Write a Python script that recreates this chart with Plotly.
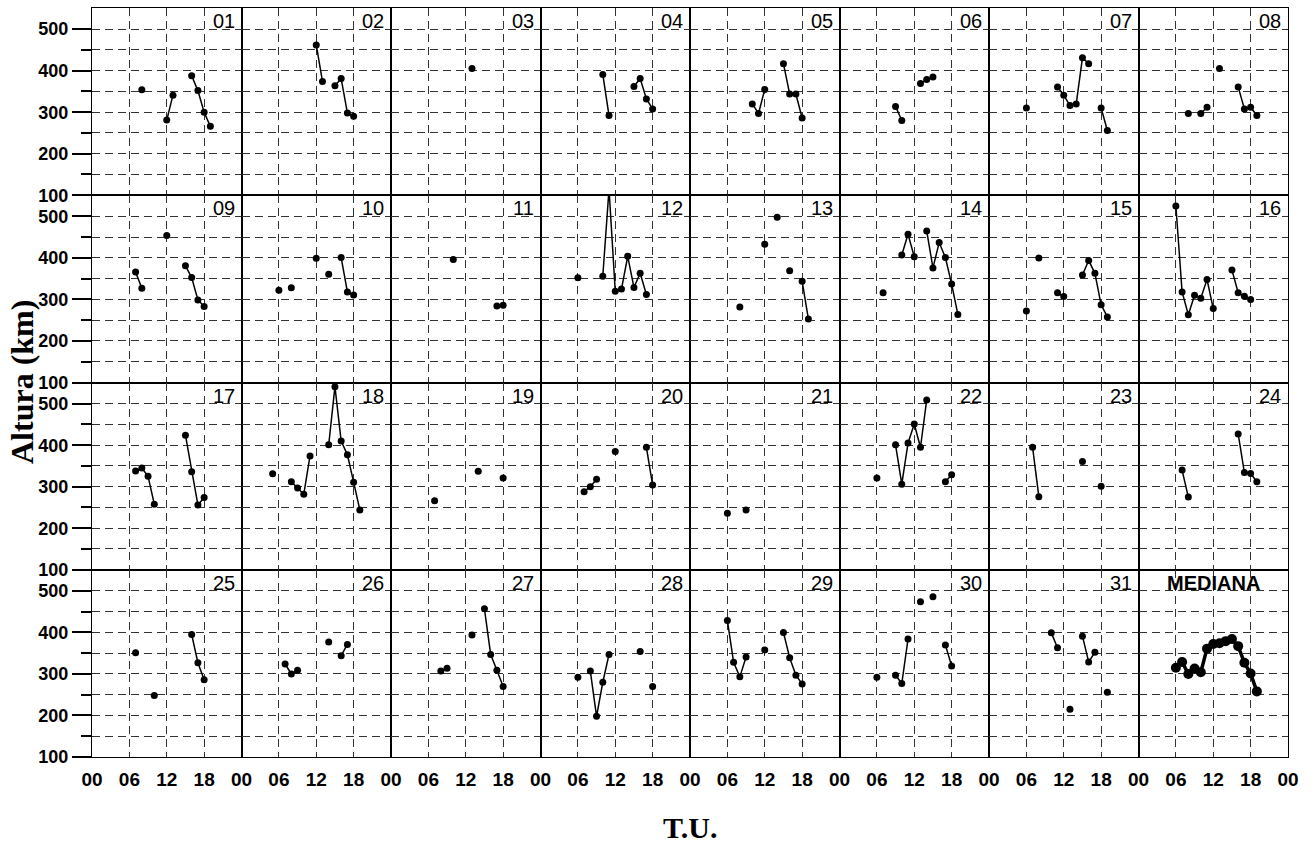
import plotly.graph_objects as go

# ---- data: hour (T.U.) and height (km) per day ----
d01_h = [8, 12, 13, 16, 17, 18, 19]
d01_v = [354, 281, 341, 388, 352, 300, 266]
d02_h = [12, 13, 15, 16, 17, 18]
d02_v = [462, 374, 364, 381, 298, 290]
d03_h = [13]
d03_v = [405]
d04_h = [10, 11, 15, 16, 17, 18]
d04_v = [391, 292, 362, 381, 332, 308]
d05_h = [10, 11, 12, 15, 16, 17, 18]
d05_v = [320, 297, 355, 417, 344, 344, 286]
d06_h = [9, 10, 13, 14, 15]
d06_v = [314, 280, 369, 379, 385]
d07_h = [6, 11, 12, 13, 14, 15, 16, 18, 19]
d07_v = [310, 361, 341, 316, 320, 431, 417, 310, 256]
d08_h = [8, 10, 11, 13, 16, 17, 18, 19]
d08_v = [297, 297, 312, 405, 361, 308, 312, 292]
d09_h = [7, 8, 12, 15, 16, 17, 18]
d09_v = [366, 327, 454, 381, 353, 299, 283]
d10_h = [6, 8, 12, 14, 16, 17, 18]
d10_v = [322, 328, 399, 361, 401, 318, 311]
d11_h = [10, 17, 18]
d11_v = [396, 284, 286]
d12_h = [6, 10, 11, 12, 13, 14, 15, 16, 17]
d12_v = [352, 356, 566, 320, 325, 404, 329, 363, 312]
d13_h = [8, 12, 14, 16, 18, 19]
d13_v = [282, 433, 498, 369, 344, 253]
d14_h = [7, 10, 11, 12, 14, 15, 16, 17, 18, 19]
d14_v = [316, 407, 457, 403, 465, 376, 437, 401, 337, 264]
d15_h = [6, 8, 11, 12, 15, 16, 17, 18, 19]
d15_v = [272, 400, 316, 307, 359, 394, 363, 287, 258]
d16_h = [6, 7, 8, 9, 10, 11, 12, 15, 16, 17, 18]
d16_v = [525, 318, 263, 310, 303, 348, 278, 371, 316, 308, 300]
d17_h = [7, 8, 9, 10, 15, 16, 17, 18]
d17_v = [338, 345, 325, 258, 424, 336, 256, 274]
d18_h = [5, 8, 9, 10, 11, 14, 15, 16, 17, 18, 19]
d18_v = [331, 312, 297, 282, 374, 401, 541, 410, 377, 311, 244]
d19_h = [7, 14, 18]
d19_v = [266, 337, 321]
d20_h = [7, 8, 9, 12, 17, 18]
d20_v = [288, 300, 318, 385, 395, 304]
d21_h = [6, 9]
d21_v = [236, 244]
d22_h = [6, 9, 10, 11, 12, 13, 14, 17, 18]
d22_v = [321, 401, 306, 405, 451, 395, 509, 312, 329]
d23_h = [7, 8, 15, 18]
d23_v = [395, 276, 361, 301]
d24_h = [7, 8, 16, 17, 18, 19]
d24_v = [340, 275, 427, 334, 332, 312]
d25_h = [7, 10, 16, 17, 18]
d25_v = [351, 248, 395, 327, 286]
d26_h = [7, 8, 9, 14, 16, 17]
d26_v = [324, 300, 309, 377, 344, 371]
d27_h = [8, 9, 13, 15, 16, 17, 18]
d27_v = [307, 314, 394, 457, 347, 309, 270]
d28_h = [6, 8, 9, 10, 11, 16, 18]
d28_v = [292, 307, 198, 280, 347, 354, 270]
d29_h = [6, 7, 8, 9, 12, 15, 16, 17, 18]
d29_v = [429, 328, 293, 341, 358, 400, 339, 297, 276]
d30_h = [6, 9, 10, 11, 13, 15, 17, 18]
d30_v = [292, 297, 277, 384, 474, 486, 370, 319]
d31_h = [10, 11, 13, 15, 16, 17, 19]
d31_v = [399, 363, 215, 391, 329, 352, 256]
med_h = [6, 7, 8, 9, 10, 11, 12, 13, 14, 15, 16, 17, 18, 19]
med_v = [315, 329, 300, 313, 304, 361, 372, 374, 379, 384, 367, 327, 301, 258]

panel_labels = ["01", "02", "03", "04", "05", "06", "07", "08",
                "09", "10", "11", "12", "13", "14", "15", "16",
                "17", "18", "19", "20", "21", "22", "23", "24",
                "25", "26", "27", "28", "29", "30", "31", "MEDIANA"]
x_tickvals = [0, 6, 12, 18]
x_ticktext = ["00", "06", "12", "18"]
y_tickvals = [100, 200, 300, 400, 500]
y_ticktext = ["100", "200", "300", "400", "500"]
y_minor = [150, 250, 350, 450]

series = [(d01_h, d01_v), (d02_h, d02_v), (d03_h, d03_v), (d04_h, d04_v),
          (d05_h, d05_v), (d06_h, d06_v), (d07_h, d07_v), (d08_h, d08_v),
          (d09_h, d09_v), (d10_h, d10_v), (d11_h, d11_v), (d12_h, d12_v),
          (d13_h, d13_v), (d14_h, d14_v), (d15_h, d15_v), (d16_h, d16_v),
          (d17_h, d17_v), (d18_h, d18_v), (d19_h, d19_v), (d20_h, d20_v),
          (d21_h, d21_v), (d22_h, d22_v), (d23_h, d23_v), (d24_h, d24_v),
          (d25_h, d25_v), (d26_h, d26_v), (d27_h, d27_v), (d28_h, d28_v),
          (d29_h, d29_v), (d30_h, d30_v), (d31_h, d31_v), (med_h, med_v)]


def with_gaps(hs, vs):
    xs, ys = [], []
    for i, (h, v) in enumerate(zip(hs, vs)):
        if i > 0 and h - hs[i - 1] > 1:
            xs.append(None)
            ys.append(None)
        xs.append(h)
        ys.append(v)
    return xs, ys


NR, NC = 4, 8
GRID_DASH = "8px,5px"
GRID_COLOR = "#333333"
BORDER_W = 1.3
TICK_FONT = dict(family="Liberation Sans, Arial, sans-serif", size=18, color="black", weight="bold")

fig = go.Figure()
layout = dict(
    width=1316, height=843,
    margin=dict(l=92, r=28, t=8, b=86),
    paper_bgcolor="white", plot_bgcolor="white",
    showlegend=False,
)
annotations = []

for i in range(NR * NC):
    r, c = divmod(i, NC)
    n = i + 1
    xa = "xaxis" if n == 1 else f"xaxis{n}"
    ya = "yaxis" if n == 1 else f"yaxis{n}"
    xr = "x" if n == 1 else f"x{n}"
    yr = "y" if n == 1 else f"y{n}"

    last_col = (c == NC - 1)
    tv = x_tickvals + ([24] if last_col else [])
    tt = x_ticktext + (["00"] if last_col else [])
    layout[xa] = dict(
        domain=[c / NC, (c + 1) / NC], anchor=yr, range=[0, 24],
        tickmode="array", tickvals=tv, ticktext=tt,
        showticklabels=(r == NR - 1), ticks="",
        tickfont=dict(family="Liberation Sans, Arial, sans-serif", size=19, color="black", weight="bold"),
        ticklabelstandoff=5,
        showgrid=True, gridcolor=GRID_COLOR, gridwidth=1.1, griddash=GRID_DASH,
        showline=True, mirror=True, linecolor="black", linewidth=BORDER_W,
        zeroline=False, fixedrange=True,
    )
    layout[ya] = dict(
        domain=[1 - (r + 1) / NR, 1 - r / NR], anchor=xr, range=[100, 551],
        tickmode="array", tickvals=y_tickvals, ticktext=y_ticktext,
        showticklabels=(c == 0),
        ticks="outside" if c == 0 else "", ticklen=19, tickwidth=2, tickcolor="black",
        tickfont=TICK_FONT,
        showgrid=True, gridcolor=GRID_COLOR, gridwidth=1.1, griddash=GRID_DASH,
        minor=dict(tickmode="array", tickvals=y_minor,
                   ticks="outside" if c == 0 else "", ticklen=10, tickwidth=2, tickcolor="black",
                   showgrid=True, gridcolor=GRID_COLOR, gridwidth=1.1, griddash=GRID_DASH),
        showline=True, mirror=True, linecolor="black", linewidth=BORDER_W,
        zeroline=False, fixedrange=True,
    )

    hs, vs = series[i]
    xs, ys = with_gaps(hs, vs)
    is_med = (i == NR * NC - 1)
    fig.add_trace(go.Scatter(
        x=xs, y=ys, xaxis=xr, yaxis=yr, mode="lines+markers",
        line=dict(color="black", width=3.5 if is_med else 1.5),
        marker=dict(color="black", size=10 if is_med else 7),
        connectgaps=False, cliponaxis=False, hoverinfo="skip",
    ))

    if is_med:
        annotations.append(dict(
            text="MEDIANA", xref=f"{xr} domain", yref=f"{yr} domain",
            x=0.5, y=1 - 13 / 187.25, xanchor="center", yanchor="middle",
            showarrow=False,
            font=dict(family="Liberation Sans, Arial, sans-serif", size=20, color="black", weight="bold"),
        ))
    else:
        annotations.append(dict(
            text=panel_labels[i], xref=f"{xr} domain", yref=f"{yr} domain",
            x=1 - 5 / 149.5, y=1 - 13 / 187.25, xanchor="right", yanchor="middle",
            showarrow=False,
            font=dict(family="Liberation Sans, Arial, sans-serif", size=20, color="black"),
        ))

annotations.append(dict(
    text="Altura (km)", xref="paper", yref="paper",
    x=(22 - 92) / 1196, y=(757 - 382) / 749, xanchor="center", yanchor="middle",
    textangle=-90, showarrow=False,
    font=dict(family="Liberation Serif, Times New Roman, serif", size=32, color="black", weight="bold"),
))
annotations.append(dict(
    text="T.U.", xref="paper", yref="paper",
    x=0.5, y=(757 - 827) / 749, xanchor="center", yanchor="middle",
    showarrow=False,
    font=dict(family="Liberation Serif, Times New Roman, serif", size=30, color="black", weight="bold"),
))
layout["annotations"] = annotations
fig.update_layout(**layout)

fig.write_html("out.html", config={"displayModeBar": False},
               post_script="document.body.style.margin='0';")
